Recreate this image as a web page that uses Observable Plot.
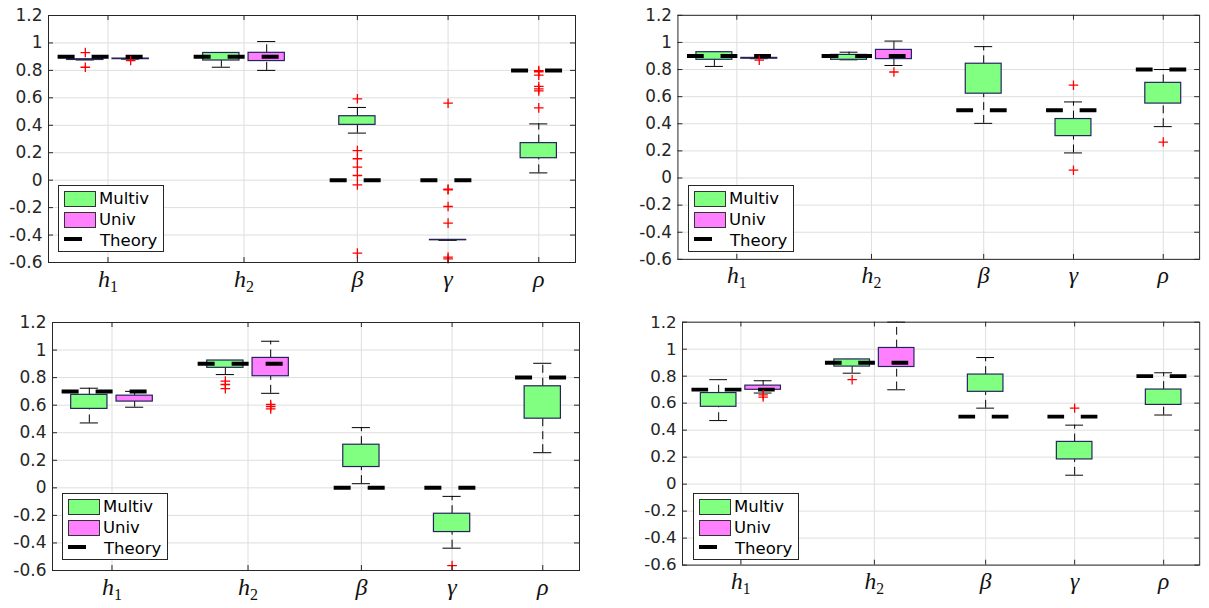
<!DOCTYPE html>
<html><head><meta charset="utf-8">
<script src="https://cdn.jsdelivr.net/npm/d3@7"></script>
<script src="https://cdn.jsdelivr.net/npm/@observablehq/plot@0.6"></script>
<style>
html,body{margin:0;padding:0;background:#fff;overflow:hidden;}
#root{position:relative;width:1209px;height:608px;overflow:hidden;}
.panel{position:absolute;}
.legend{position:absolute;}
</style></head>
<body><div id="root"></div>
<script>
// ---------- shared layout data ----------
const paramLabels = ["h1", "h2", "β", "γ", "ρ"];
const tickPos = [1, 2.5, 3.75, 4.75, 5.75];
const multivPos = [0.75, 2.25, 3.75, 4.75, 5.75];
const univPos = [1.25, 2.75];
const yTicks = [-0.6, -0.4, -0.2, 0, 0.2, 0.4, 0.6, 0.8, 1, 1.2];
const legendLabels = ["Multiv", "Univ", "Theory"];

// ---------- Panel A (top-left) ----------  boxes: [lowWhisker, q1, q3, highWhisker]
const theoryA = [0.9, 0.9, 0, 0, 0.8];
const multivA = [[0.876, 0.876, 0.881, 0.881], [0.823, 0.872, 0.927, 0.927], [0.343, 0.403, 0.466, 0.53], [-0.438, -0.438, -0.435, -0.435], [0.053, 0.16, 0.27, 0.41]];
const univA = [[0.882, 0.882, 0.886, 0.886], [0.80, 0.868, 0.928, 1.01]];
const multivOutA = [[0.93, 0.823], [], [0.593, 0.216, 0.156, 0.095, 0.034, -0.034, -0.532], [0.561, -0.065, -0.07, -0.192, -0.313, -0.561, -0.573], [0.799, 0.79, 0.765, 0.683, 0.666, 0.65, 0.527]];
const univOutA = [[0.872], []];

// ---------- Panel B (top-right) ----------
const theoryB = [0.9, 0.9, 0.5, 0.5, 0.8];
const multivB = [[0.823, 0.872, 0.928, 0.928], [0.872, 0.872, 0.908, 0.928], [0.403, 0.622, 0.843, 0.969], [0.185, 0.309, 0.435, 0.561], [0.379, 0.549, 0.702, 0.80]];
const univB = [[0.880, 0.880, 0.886, 0.886], [0.83, 0.877, 0.945, 1.01]];
const multivOutB = [[], [], [], [0.685, 0.058], [0.265]];
const univOutB = [[0.869], [0.782]];

// ---------- Panel C (bottom-left) ----------
const theoryC = [0.7, 0.9, 0, 0, 0.8];
const multivC = [[0.471, 0.573, 0.675, 0.723], [0.822, 0.871, 0.924, 0.924], [0.03, 0.151, 0.313, 0.437], [-0.438, -0.321, -0.188, -0.062], [0.255, 0.502, 0.737, 0.904]];
const univC = [[0.585, 0.626, 0.669, 0.70], [0.686, 0.81, 0.943, 1.064]];
const multivOutC = [[], [0.775, 0.75, 0.72], [], [-0.564], []];
const univOutC = [[], [0.605, 0.59, 0.573]];

// ---------- Panel D (bottom-right) ----------
const theoryD = [0.7, 0.9, 0.5, 0.5, 0.8];
const multivD = [[0.471, 0.573, 0.675, 0.774], [0.822, 0.871, 0.924, 0.924], [0.563, 0.684, 0.812, 0.938], [0.066, 0.183, 0.313, 0.437], [0.512, 0.587, 0.701, 0.825]];
const univD = [[0.675, 0.699, 0.73, 0.766], [0.699, 0.868, 1.009, 1.2]];
const multivOutD = [[], [0.774], [], [0.563], []];
const univOutD = [[0.662, 0.645], []];

// ---------- styles ----------
const GREEN = "#80ff80", PINK = "#ff80ff", EDGE = "#24245c", AXIS = "#262626";
const xDomain = [0.344, 6.155], yDomain = [-0.6, 1.2];

function makePanel(cfg) {
  const boxRows = [];
  cfg.multiv.forEach((s, i) => boxRows.push({x: multivPos[i], lo: s[0], q1: s[1], q3: s[2], hi: s[3], g: "Multiv"}));
  cfg.univ.forEach((s, i) => boxRows.push({x: univPos[i], lo: s[0], q1: s[1], q3: s[2], hi: s[3], g: "Univ"}));
  const outRows = [];
  cfg.multivOut.forEach((arr, i) => arr.forEach(v => outRows.push({x: multivPos[i], y: v})));
  cfg.univOut.forEach((arr, i) => arr.forEach(v => outRows.push({x: univPos[i], y: v})));
  const theoryRows = cfg.theory.map((v, i) => {
    const half = i < univPos.length ? 0.55 : 0.3;
    return {y: v, x1: tickPos[i] - half, x2: tickPos[i] + half};
  });
  const plotW = cfg.plotW, plotH = cfg.plotH;
  const tx = 5 * (xDomain[1] - xDomain[0]) / plotW;
  const ty = 5 * (yDomain[1] - yDomain[0]) / plotH;
  const mL = 48, mR = 10, mT = 15, mB = 38;
  const svg = Plot.plot({
    width: mL + plotW + mR, height: mT + plotH + mB,
    marginLeft: mL, marginRight: mR, marginTop: mT, marginBottom: mB,
    x: {domain: xDomain}, y: {domain: yDomain},
    style: {fontFamily: "DejaVu Sans", fontSize: "16px", color: AXIS, background: "#fff", overflow: "visible"},
    marks: [
      Plot.gridY(yTicks, {stroke: "#dedede", strokeOpacity: 1}),
      Plot.gridX(tickPos, {stroke: "#dedede", strokeOpacity: 1}),
      // whiskers (dashed)
      Plot.ruleX(boxRows, {x: "x", y1: "q3", y2: "hi", stroke: "#000", strokeWidth: 1, strokeDasharray: "8,5"}),
      Plot.ruleX(boxRows, {x: "x", y1: "lo", y2: "q1", stroke: "#000", strokeWidth: 1, strokeDasharray: "8,5"}),
      // caps
      Plot.ruleY(boxRows, {y: "hi", x1: d => d.x - 0.1, x2: d => d.x + 0.1, stroke: "#000", strokeWidth: 1}),
      Plot.ruleY(boxRows, {y: "lo", x1: d => d.x - 0.1, x2: d => d.x + 0.1, stroke: "#000", strokeWidth: 1}),
      // boxes
      Plot.rect(boxRows, {x1: d => d.x - 0.2, x2: d => d.x + 0.2, y1: "q1", y2: "q3",
        fill: d => d.g === "Multiv" ? GREEN : PINK, stroke: EDGE, strokeWidth: 1.2}),
      // theory
      Plot.ruleY(theoryRows, {y: "y", x1: "x1", x2: "x2", stroke: "#000", strokeWidth: 4, strokeDasharray: "17,17"}),
      // outliers
      Plot.dot(outRows, {x: "x", y: "y", symbol: "plus", r: 3.2, stroke: "#ff0000", fill: "none", strokeWidth: 1.3}),
      // frame + inward ticks
      Plot.frame({stroke: AXIS, strokeWidth: 1}),
      Plot.ruleY(yTicks, {y: d => d, x1: xDomain[0], x2: xDomain[0] + tx, stroke: AXIS}),
      Plot.ruleY(yTicks, {y: d => d, x1: xDomain[1] - tx, x2: xDomain[1], stroke: AXIS}),
      Plot.ruleX(tickPos, {x: d => d, y1: yDomain[0], y2: yDomain[0] + ty, stroke: AXIS}),
      Plot.ruleX(tickPos, {x: d => d, y1: yDomain[1] - ty, y2: yDomain[1], stroke: AXIS}),
      Plot.axisY(yTicks, {tickSize: 0, tickPadding: 6, fill: AXIS,
        tickFormat: d => String(Math.round(d * 10) / 10)}),
      Plot.axisX(tickPos, {tickSize: 0, tickPadding: 7, fill: "#111",
        tickFormat: d => paramLabels[tickPos.indexOf(d)]})
    ]
  });
  const s = d3.select(svg);
  s.selectAll("text").each(function() {
    const t = this.textContent;
    if (paramLabels.includes(t)) {
      this.style.fontSize = "24px";
      this.style.fontFamily = "'Liberation Serif'";
      this.style.fontStyle = "italic";
      if (t === "h1" || t === "h2") {
        this.innerHTML = `h<tspan style="font-style:normal;font-size:16px" dy="5">${t[1]}</tspan>`;
      }
    } else {
      this.style.fontSize = "17px";
      this.style.fontFamily = "'DejaVu Sans'";
    }
  });
  const wrap = document.createElement("div");
  wrap.className = "panel";
  wrap.style.left = cfg.left + "px";
  wrap.style.top = cfg.top + "px";
  wrap.appendChild(svg);
  document.getElementById("root").appendChild(wrap);

  // legend (inside plot, lower-left)
  const lg = document.createElement("div");
  lg.className = "legend";
  lg.style.left = (cfg.left + mL + 10) + "px";
  lg.style.top = (cfg.top + mT + plotH - 77) + "px";
  lg.innerHTML = `<svg width="107" height="68" xmlns="http://www.w3.org/2000/svg" font-family="DejaVu Sans" font-size="16.5" fill="#000">
    <rect x="0.5" y="0.5" width="105" height="66" fill="#fff" stroke="${AXIS}"/>
    <rect x="6.5" y="6.5" width="31" height="15" fill="${GREEN}" stroke="#333"/>
    <text x="41" y="19">${legendLabels[0]}</text>
    <rect x="6.5" y="27.5" width="31" height="15" fill="${PINK}" stroke="#333"/>
    <text x="41" y="40">${legendLabels[1]}</text>
    <line x1="6" x2="24" y1="54" y2="54" stroke="#000" stroke-width="4"/>
    <text x="42" y="61">${legendLabels[2]}</text>
  </svg>`;
  document.getElementById("root").appendChild(lg);
}

makePanel({left: 0, top: 0, plotW: 527, plotH: 247, theory: theoryA, multiv: multivA, univ: univA, multivOut: multivOutA, univOut: univOutA});
makePanel({left: 630, top: 0, plotW: 528, plotH: 247, theory: theoryB, multiv: multivB, univ: univB, multivOut: multivOutB, univOut: univOutB});
makePanel({left: 4, top: 307, plotW: 527, plotH: 248, theory: theoryC, multiv: multivC, univ: univC, multivOut: multivOutC, univOut: univOutC});
makePanel({left: 635, top: 307, plotW: 528, plotH: 248, theory: theoryD, multiv: multivD, univ: univD, multivOut: multivOutD, univOut: univOutD});
</script>
</body></html>
